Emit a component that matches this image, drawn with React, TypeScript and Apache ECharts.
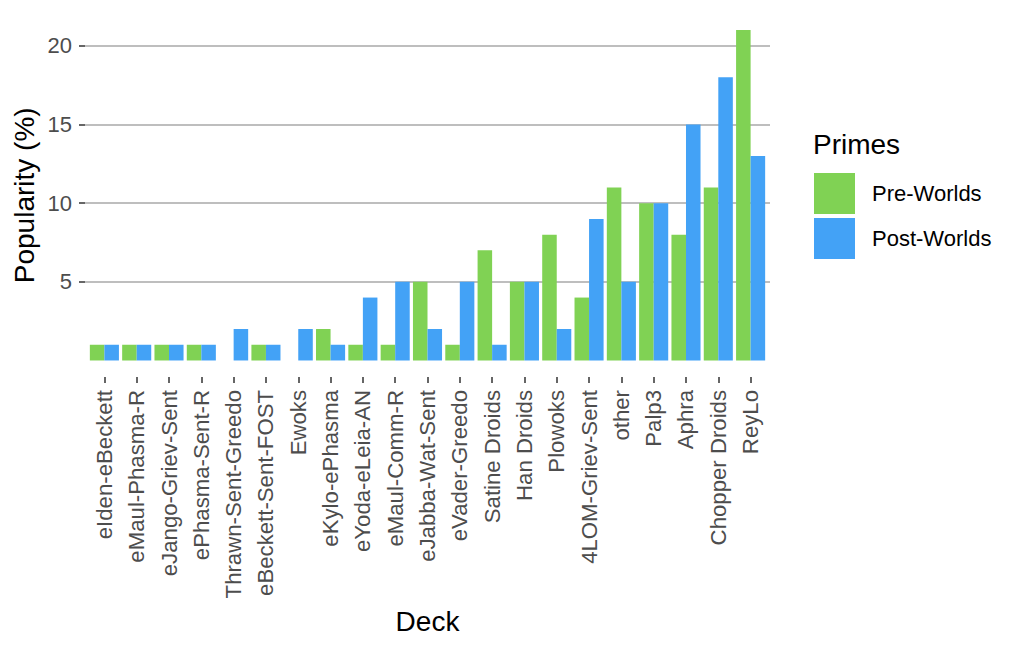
import React, { useEffect, useRef } from "react";
import * as echarts from "echarts";

const decks = [
  "eIden-eBeckett",
  "eMaul-Phasma-R",
  "eJango-Griev-Sent",
  "ePhasma-Sent-R",
  "Thrawn-Sent-Greedo",
  "eBeckett-Sent-FOST",
  "Ewoks",
  "eKylo-ePhasma",
  "eYoda-eLeia-AN",
  "eMaul-Comm-R",
  "eJabba-Wat-Sent",
  "eVader-Greedo",
  "Satine Droids",
  "Han Droids",
  "Plowoks",
  "4LOM-Griev-Sent",
  "other",
  "Palp3",
  "Aphra",
  "Chopper Droids",
  "ReyLo",
];
const preWorlds = [1, 1, 1, 1, 0, 1, 0, 2, 1, 1, 5, 1, 7, 5, 8, 4, 11, 10, 8, 11, 21];
const postWorlds = [1, 1, 1, 1, 2, 1, 2, 1, 4, 5, 2, 5, 1, 5, 2, 9, 5, 10, 15, 18, 13];
const seriesNames = ["Pre-Worlds", "Post-Worlds"];
const legendTitle = "Primes";
const yTicks = [5, 10, 15, 20];

const FONT = "Liberation Sans, Arial, sans-serif";
const GREEN = "#80D254";
const BLUE = "#43A2F6";

export default function App() {
  const ref = useRef<HTMLDivElement>(null);
  useEffect(() => {
    if (!ref.current) return;
    const chart = echarts.init(ref.current, undefined, { renderer: "svg" });
    // panel geometry (ggplot-like)
    const panelLeft = 85;
    const panelRight = 770;
    const panelTop = 13.6;
    const panelBottom = 377;
    const yMin = -1.05;
    const yMax = 22.05;
    const unitY = (panelBottom - panelTop) / (yMax - yMin);
    const yPix = (v: number) => panelBottom - (v - yMin) * unitY;
    const n = decks.length;
    const u = (panelRight - panelLeft) / (n - 1 + 1.2);
    const barLeft = panelLeft + 0.1 * u;
    const barRight = barLeft + n * u;

    chart.setOption({
      animation: false,
      backgroundColor: "#ffffff",
      textStyle: { fontFamily: FONT },
      grid: [
        {
          left: panelLeft,
          right: 1024 - panelRight,
          top: yPix(yTicks[yTicks.length - 1]),
          bottom: 651 - yPix(yTicks[0]),
          containLabel: false,
        },
        {
          left: barLeft,
          right: 1024 - barRight,
          top: panelTop,
          bottom: 651 - panelBottom,
          containLabel: false,
        },
      ],
      xAxis: [
        { gridIndex: 0, type: "value", show: false, min: 0, max: 1 },
        {
          gridIndex: 1,
          type: "category",
          data: decks,
          axisLine: { show: false, onZero: false },
          axisTick: {
            show: true,
            alignWithLabel: true,
            length: 6,
            lineStyle: { color: "#333333", width: 1.5 },
          },
          axisLabel: {
            rotate: 90,
            interval: 0,
            fontSize: 22.2,
            color: "#4D4D4D",
            margin: 13,
            fontFamily: FONT,
          },
          name: "Deck",
          nameLocation: "middle",
          nameGap: 230,
          nameTextStyle: { fontSize: 28, color: "#000000", fontFamily: FONT, verticalAlign: "top" },
        },
      ],
      yAxis: [
        {
          gridIndex: 0,
          type: "value",
          min: yTicks[0],
          max: yTicks[yTicks.length - 1],
          interval: 5,
          axisLine: { show: false },
          axisTick: { show: true, length: 6, lineStyle: { color: "#333333", width: 1.5 } },
          axisLabel: { fontSize: 22, color: "#4D4D4D", margin: 13, fontFamily: FONT },
          splitLine: { show: true, lineStyle: { color: "#BEBEBE", width: 1.8 } },
        },
        {
          gridIndex: 1,
          type: "value",
          min: yMin,
          max: yMax,
          axisLine: { show: false },
          axisTick: { show: false },
          axisLabel: { show: false },
          splitLine: { show: false },
          name: "Popularity (%)",
          nameLocation: "middle",
          nameRotate: 90,
          nameGap: 50,
          nameTextStyle: { fontSize: 28, color: "#000000", fontFamily: FONT },
        },
      ],
      legend: {
        data: seriesNames,
        orient: "vertical",
        left: 814,
        top: 173,
        padding: 0,
        itemWidth: 41,
        itemHeight: 41,
        itemGap: 4,
        icon: "rect",
        textStyle: { fontSize: 22, color: "#000000", fontFamily: FONT, padding: [0, 0, 0, 12] },
      },
      graphic: [
        {
          type: "text",
          left: 813,
          top: 130,
          style: { text: legendTitle, fontSize: 28, fill: "#000000", fontFamily: FONT },
        },
      ],
      series: [
        {
          name: seriesNames[0],
          type: "bar",
          xAxisIndex: 1,
          yAxisIndex: 1,
          data: preWorlds,
          barWidth: 0.45 * u,
          barGap: "0%",
          itemStyle: { color: GREEN },
        },
        {
          name: seriesNames[1],
          type: "bar",
          xAxisIndex: 1,
          yAxisIndex: 1,
          data: postWorlds,
          barWidth: 0.45 * u,
          barGap: "0%",
          itemStyle: { color: BLUE },
        },
      ],
    });
    return () => chart.dispose();
  }, []);
  return <div ref={ref} style={{ width: 1024, height: 651, position: "absolute", left: 0, top: 0 }} />;
}
